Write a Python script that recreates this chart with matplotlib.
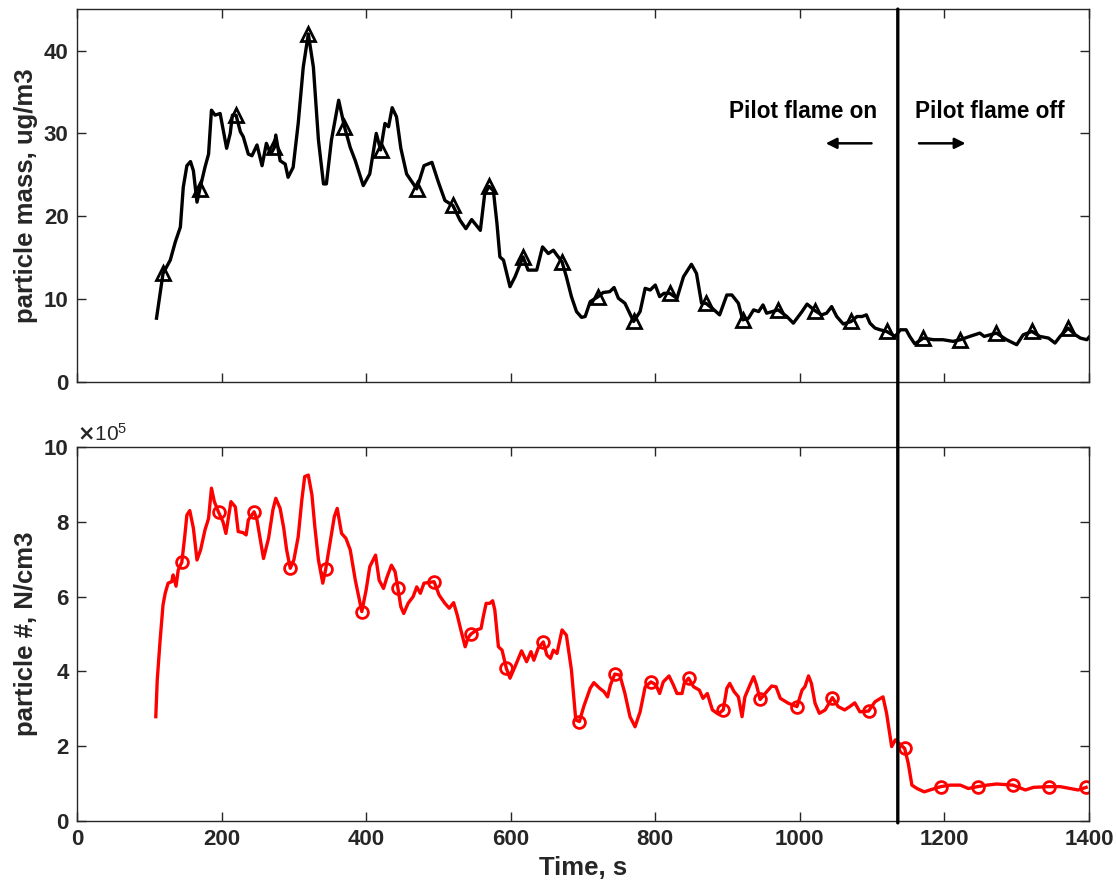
import matplotlib
matplotlib.use('Agg')
import matplotlib.pyplot as plt
from matplotlib.patches import ConnectionPatch

plt.rcParams['font.family'] = ['Liberation Sans', 'DejaVu Sans']
plt.rcParams['font.weight'] = 'bold'

# particle mass, ug/m3
mass_t = [110, 119, 129, 136, 143, 147, 152, 157, 161, 166, 170, 177, 182, 186, 191, 198,
          207, 212, 215, 220, 226, 230, 237, 242, 249, 256, 262, 268, 273, 275, 281, 288,
          292, 299, 306, 313, 320, 327, 334, 341, 345, 352, 362, 370, 378, 385, 396, 405,
          414, 420, 426, 431, 436, 442, 448, 456, 470, 480, 491, 500, 509, 520, 530, 538,
          546, 558, 564, 570, 576, 581, 585, 590, 599, 606, 617, 624, 636, 644, 652, 659,
          664, 671, 677, 684, 691, 698, 703, 710, 721, 728, 737, 743, 749, 758, 770, 779,
          786, 793, 800, 806, 812, 820, 830, 839, 850, 857, 864, 870, 880, 889, 899, 906,
          915, 921, 929, 936, 943, 949, 954, 970, 982, 991, 1003, 1010, 1021, 1030, 1037, 1044,
          1051, 1060, 1071, 1079, 1086, 1092, 1097, 1104, 1111, 1120, 1132, 1139, 1147, 1152, 1159, 1171,
          1185, 1198, 1212, 1222, 1235, 1242, 1249, 1255, 1272, 1286, 1300, 1309, 1321, 1332, 1344, 1353,
          1360, 1371, 1381, 1388, 1397, 1400]
mass_v = [7.7, 13.1, 14.7, 16.9, 18.7, 23.5, 26.1, 26.6, 25.5, 21.7, 23.3, 25.9, 27.5, 32.8, 32.2, 32.4,
          28.2, 30.0, 32.2, 32.2, 30.2, 29.6, 27.5, 27.3, 28.6, 26.1, 28.8, 27.5, 28.3, 29.8, 26.7, 26.3,
          24.7, 25.9, 31.2, 38.0, 42.0, 38.0, 29.2, 23.9, 23.9, 29.2, 34.0, 30.8, 28.3, 26.7, 23.7, 25.1,
          30.0, 28.0, 31.2, 30.8, 33.1, 32.0, 28.2, 25.1, 23.3, 26.1, 26.5, 24.1, 21.9, 21.3, 19.5, 18.5,
          19.6, 18.3, 22.7, 23.6, 23.1, 19.1, 15.1, 14.7, 11.5, 12.7, 15.1, 13.5, 13.5, 16.3, 15.5, 15.9,
          15.3, 14.5, 12.7, 10.3, 8.5, 7.8, 7.9, 9.7, 10.3, 10.8, 10.9, 11.4, 10.1, 9.5, 7.3, 8.5,
          11.3, 11.1, 11.7, 10.3, 10.7, 10.7, 10.1, 12.7, 14.2, 13.1, 9.5, 9.5, 8.8, 8.1, 10.5, 10.5,
          9.5, 7.5, 7.7, 8.7, 8.5, 9.3, 8.3, 8.7, 7.9, 7.1, 8.5, 9.4, 8.6, 8.1, 8.3, 9.1,
          7.9, 7.0, 7.3, 7.9, 7.9, 8.1, 7.1, 6.5, 6.3, 6.1, 5.5, 6.3, 6.3, 5.5, 4.6, 5.3,
          5.1, 5.1, 4.9, 5.1, 5.5, 5.7, 5.9, 5.5, 5.9, 5.1, 4.5, 5.7, 6.1, 5.5, 5.3, 4.7,
          5.5, 6.5, 5.7, 5.3, 5.1, 5.4]
mass_mark_t = [119, 170, 220, 273, 320, 370, 420, 470, 520, 570, 617, 671, 721, 770, 820, 870,
               921, 970, 1021, 1071, 1120, 1171, 1222, 1272, 1321, 1371]

# particle number, in units of 1e5 N/cm3
num_t = [109, 111, 115, 119, 122, 126, 131, 133, 137, 140, 145, 149, 152, 156, 161, 166,
         171, 177, 182, 186, 190, 196, 202, 206, 209, 213, 219, 223, 230, 234, 237, 245,
         249, 258, 265, 271, 275, 281, 286, 290, 295, 300, 306, 311, 315, 320, 325, 329,
         334, 340, 344, 350, 356, 360, 366, 372, 378, 385, 394, 400, 405, 413, 418, 424,
         429, 435, 440, 444, 448, 452, 458, 465, 470, 475, 480, 494, 501, 509, 515, 521,
         526, 531, 537, 541, 545, 553, 559, 562, 566, 571, 575, 578, 583, 588, 594, 599,
         606, 615, 622, 628, 632, 638, 645, 650, 655, 659, 664, 671, 677, 684, 690, 695,
         701, 710, 715, 723, 729, 734, 738, 744, 751, 758, 765, 772, 779, 786, 794, 801,
         806, 811, 819, 825, 830, 837, 840, 846, 853, 861, 866, 872, 879, 887, 894, 899,
         903, 909, 915, 920, 924, 931, 936, 940, 945, 952, 961, 967, 973, 984, 996, 1003,
         1007, 1012, 1016, 1021, 1027, 1035, 1045, 1053, 1062, 1069, 1076, 1083, 1095, 1104, 1115, 1120,
         1127, 1132, 1145, 1150, 1155, 1162, 1172, 1180, 1195, 1208, 1222, 1233, 1246, 1259, 1272, 1295,
         1312, 1323, 1345, 1360, 1374, 1385, 1396]
num_v = [2.79, 3.77, 4.84, 5.78, 6.09, 6.36, 6.40, 6.58, 6.28, 6.71, 6.92, 7.60, 8.18, 8.30, 7.83, 6.98,
         7.25, 7.78, 8.09, 8.90, 8.54, 8.25, 8.00, 7.69, 8.05, 8.54, 8.40, 7.74, 7.71, 7.65, 8.05, 8.27,
         8.05, 7.02, 7.56, 8.32, 8.63, 8.36, 7.83, 7.25, 6.76, 6.98, 7.60, 8.58, 9.21, 9.25, 8.72, 7.87,
         6.98, 6.36, 6.73, 7.43, 8.14, 8.36, 7.69, 7.56, 7.25, 6.44, 5.60, 6.18, 6.80, 7.11, 6.44, 6.22,
         6.53, 6.84, 6.67, 6.22, 5.73, 5.55, 5.82, 6.00, 6.26, 6.09, 6.36, 6.40, 6.04, 5.82, 5.69, 5.84,
         5.51, 5.11, 4.66, 4.90, 5.00, 5.11, 5.15, 5.46, 5.82, 5.82, 5.89, 5.64, 4.66, 4.57, 4.08, 3.82,
         4.13, 4.55, 4.26, 4.53, 4.30, 4.62, 4.79, 4.44, 4.35, 4.57, 4.48, 5.11, 4.97, 4.04, 2.70, 2.66,
         3.06, 3.55, 3.70, 3.55, 3.46, 3.32, 3.64, 3.93, 3.90, 3.41, 2.79, 2.52, 2.92, 3.59, 3.72, 3.64,
         3.41, 3.72, 3.88, 3.64, 3.41, 3.41, 3.68, 3.82, 3.59, 3.50, 3.28, 3.41, 2.97, 2.86, 2.97, 3.55,
         3.68, 3.46, 3.32, 2.79, 3.32, 3.64, 3.86, 3.64, 3.25, 3.41, 3.61, 3.59, 3.28, 3.15, 3.06, 3.50,
         3.59, 3.88, 3.68, 3.15, 2.88, 2.97, 3.30, 3.06, 2.97, 3.06, 3.16, 2.92, 2.94, 3.19, 3.32, 2.88,
         1.99, 2.17, 1.94, 1.54, 0.96, 0.87, 0.78, 0.83, 0.92, 0.96, 0.96, 0.87, 0.92, 0.96, 0.99, 0.96,
         0.83, 0.90, 0.92, 0.92, 0.87, 0.83, 0.90]
num_mark_t = [145, 196, 245, 295, 344, 394, 444, 494, 545, 594, 645, 695, 744, 794, 846, 894,
              945, 996, 1045, 1095, 1145, 1195, 1246, 1295, 1345, 1396]

flame_off_t = 1135.5

frame_col = '#262626'
tick_fs = 16
label_fs = 18.5


def style_axes(ax):
    ax.tick_params(direction='in', length=6.5, width=1.0, top=True, right=True,
                   labelsize=tick_fs, colors=frame_col, pad=6)
    for s in ax.spines.values():
        s.set_color(frame_col)
        s.set_linewidth(1.0)
    for lab in ax.get_xticklabels() + ax.get_yticklabels():
        lab.set_fontweight('bold')


fig = plt.figure(figsize=(11.16, 8.9), dpi=100)
ax1 = fig.add_axes([0.069, 0.5708, 0.9068, 0.419])
ax2 = fig.add_axes([0.069, 0.0775, 0.9068, 0.4202])

# top: particle mass
mass_idx = [mass_t.index(t) for t in mass_mark_t]
ax1.plot(mass_t, mass_v, '-^', color='k', lw=2.4, markevery=mass_idx,
         ms=10, mfc='none', mew=2.0)
ax1.set_xlim(0, 1400)
ax1.set_ylim(0, 45)
ax1.set_yticks([0, 10, 20, 30, 40])
ax1.set_xticks(range(0, 1401, 200))
ax1.set_xticklabels([])
ax1.set_ylabel('particle mass, ug/m3', fontsize=label_fs, fontweight='bold', color=frame_col)
style_axes(ax1)

ax1.text(1004, 32.6, 'Pilot flame on', fontsize=16.3, fontweight='bold', ha='center', va='center')
ax1.text(1263, 32.6, 'Pilot flame off', fontsize=16.3, fontweight='bold', ha='center', va='center')
ax1.annotate('', xy=(1032, 28.8), xytext=(1103, 28.8),
             arrowprops=dict(arrowstyle='-|>', color='k', lw=1.8, mutation_scale=16))
ax1.annotate('', xy=(1233, 28.8), xytext=(1161, 28.8),
             arrowprops=dict(arrowstyle='-|>', color='k', lw=1.8, mutation_scale=16))

# bottom: particle number
num_idx = [num_t.index(t) for t in num_mark_t]
ax2.plot(num_t, num_v, '-o', color='r', lw=2.4, markevery=num_idx,
         ms=8.5, mfc='none', mew=2.0)
ax2.set_xlim(0, 1400)
ax2.set_ylim(0, 10)
ax2.set_yticks([0, 2, 4, 6, 8, 10])
ax2.set_xticks(range(0, 1401, 200))
ax2.text(0.0, 1.006, r'$\times\mathregular{10^5}$', transform=ax2.transAxes, fontsize=15,
         fontweight='normal', ha='left', va='bottom', color=frame_col)
ax2.set_ylabel('particle #, N/cm3', fontsize=label_fs, fontweight='bold', color=frame_col)
ax2.set_xlabel('Time, s', fontsize=label_fs, fontweight='bold', color=frame_col)
style_axes(ax2)

# flame-off marker spanning both panels
con = ConnectionPatch(xyA=(flame_off_t, 45), coordsA=ax1.transData,
                      xyB=(flame_off_t, -0.05), coordsB=ax2.transData,
                      color='k', lw=2.4)
fig.add_artist(con)

fig.savefig('out.png', dpi=100)
